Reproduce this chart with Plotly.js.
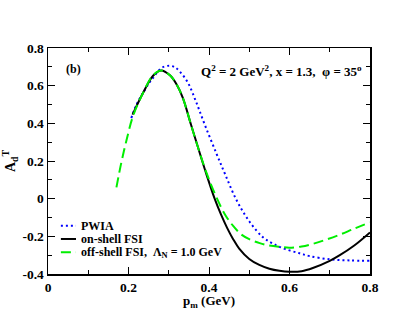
<!DOCTYPE html>
<html>
<head>
<meta charset="utf-8">
<script src="https://cdn.plot.ly/plotly-3.0.1.min.js"></script>
<style>
  body { margin: 0; padding: 0; background: #fff; }
  #plot { width: 417px; height: 322px; }
</style>
</head>
<body>
<div id="plot"></div>
<script>
// PWIA (blue dotted)
const pwiaX = [0.207, 0.22, 0.236, 0.25, 0.261, 0.282, 0.302, 0.315, 0.327, 0.348, 0.369, 0.39, 0.418, 0.44, 0.468, 0.5, 0.534, 0.56, 0.59, 0.625, 0.65, 0.7, 0.75, 0.8];
const pwiaY = [0.428, 0.5, 0.561, 0.61, 0.641, 0.694, 0.706, 0.698, 0.676, 0.614, 0.508, 0.39, 0.242, 0.13, -0.006, -0.12, -0.205, -0.24, -0.268, -0.29, -0.305, -0.322, -0.328, -0.33];

// on-shell FSI (black solid)
const onX = [0.21, 0.236, 0.261, 0.281, 0.303, 0.32, 0.335, 0.355, 0.373, 0.395, 0.414, 0.43, 0.445, 0.46, 0.475, 0.5, 0.525, 0.55, 0.575, 0.6, 0.63, 0.658, 0.7, 0.725, 0.76, 0.8];
const onY = [0.446, 0.561, 0.653, 0.681, 0.655, 0.605, 0.535, 0.395, 0.27, 0.12, 0.0, -0.085, -0.155, -0.215, -0.265, -0.32, -0.352, -0.372, -0.383, -0.388, -0.385, -0.368, -0.33, -0.3, -0.25, -0.179];

// off-shell FSI (green dashed)
const offX = [0.17, 0.182, 0.195, 0.211, 0.236, 0.261, 0.282, 0.303, 0.32, 0.335, 0.355, 0.373, 0.395, 0.42, 0.44, 0.46, 0.48, 0.5, 0.526, 0.55, 0.576, 0.6, 0.63, 0.658, 0.69, 0.725, 0.76, 0.8];
const offY = [0.06, 0.19, 0.31, 0.437, 0.561, 0.655, 0.68, 0.655, 0.605, 0.535, 0.395, 0.27, 0.13, 0.0, -0.085, -0.145, -0.19, -0.215, -0.236, -0.249, -0.256, -0.26, -0.254, -0.24, -0.218, -0.191, -0.16, -0.126];

const xTicks = [0, 0.2, 0.4, 0.6, 0.8];
const yTicks = [-0.4, -0.2, 0, 0.2, 0.4, 0.6, 0.8];

const legendNames = ["PWIA", "on-shell FSI", "off-shell FSI,  Λ<sub>N</sub> = 1.0 GeV"];
const colors = ["#0000ff", "#000000", "#00ee00"];
const dashes = ["2px,3px", "solid", "10px,5px"];

const serif = "Liberation Serif, Times New Roman, serif";

const traces = [
  {
    x: pwiaX, y: pwiaY, mode: "lines", type: "scatter", name: legendNames[0],
    line: { color: colors[0], width: 2, dash: dashes[0], shape: "spline" }
  },
  {
    x: onX, y: onY, mode: "lines", type: "scatter", name: legendNames[1],
    line: { color: colors[1], width: 2, dash: dashes[1], shape: "spline" }
  },
  {
    x: offX, y: offY, mode: "lines", type: "scatter", name: legendNames[2],
    line: { color: colors[2], width: 2, dash: dashes[2], shape: "spline" }
  }
];

const axisCommon = {
  showgrid: false,
  zeroline: false,
  showline: true,
  linecolor: "#000",
  linewidth: 1.5,
  mirror: "allticks",
  ticks: "inside",
  ticklen: 7,
  tickwidth: 1,
  tickcolor: "#000",
  tickfont: { family: serif, size: 13.5, color: "#000", weight: "bold" },
  minor: { dtick: 0.1, ticks: "inside", ticklen: 4, tickwidth: 1, tickcolor: "#000" }
};

// hand-built legend, the items sit closer than plotly's own legend allows
const legY = [0.214, 0.155, 0.096];
const legShapes = legY.map((y, i) => ({
  type: "line", xref: "paper", yref: "paper",
  x0: 0.04, x1: 0.087, y0: y, y1: y,
  line: { color: colors[i], width: 2, dash: dashes[i] }
}));
const legText = legY.map((y, i) => ({
  xref: "paper", yref: "paper", x: 0.1, y: y, xanchor: "left", yanchor: "middle",
  text: "<b>" + legendNames[i] + "</b>", showarrow: false,
  height: 11, borderpad: 0,
  font: { family: serif, size: 12, color: "#000" }
}));

const layout = {
  width: 417,
  height: 322,
  margin: { l: 48, r: 47, t: 48, b: 48 },
  paper_bgcolor: "#fff",
  plot_bgcolor: "#fff",
  font: { family: serif, color: "#000" },
  showlegend: false,
  xaxis: Object.assign({}, axisCommon, {
    range: [0, 0.8],
    tickvals: xTicks,
    ticktext: xTicks.map(v => String(v))
  }),
  yaxis: Object.assign({}, axisCommon, {
    range: [-0.4, 0.8],
    tickvals: yTicks,
    ticktext: yTicks.map(v => String(v)),
    title: { text: "<b>A<sub>d</sub><sup>T</sup></b>", font: { family: serif, size: 14 }, standoff: 8 }
  }),
  shapes: legShapes,
  annotations: [
    {
      xref: "paper", yref: "paper", x: 0.5, y: -0.122, xanchor: "center", yanchor: "middle",
      text: "<b>p<sub>m</sub> (GeV)</b>", showarrow: false, borderpad: 0,
      font: { family: serif, size: 13 }
    },
    {
      xref: "paper", yref: "paper", x: 0.05, y: 0.905, xanchor: "left", yanchor: "middle",
      text: "<b>(b)</b>", showarrow: false, font: { family: serif, size: 12 }
    },
    {
      xref: "paper", yref: "paper", x: 0.98, y: 0.9, xanchor: "right", yanchor: "middle",
      text: "<b>Q<sup>2</sup> = 2 GeV<sup>2</sup>, x = 1.3,  φ = 35<sup>o</sup></b>",
      showarrow: false, font: { family: serif, size: 13 }
    }
  ].concat(legText)
};

Plotly.newPlot("plot", traces, layout, { displayModeBar: false, staticPlot: true });
</script>
</body>
</html>
